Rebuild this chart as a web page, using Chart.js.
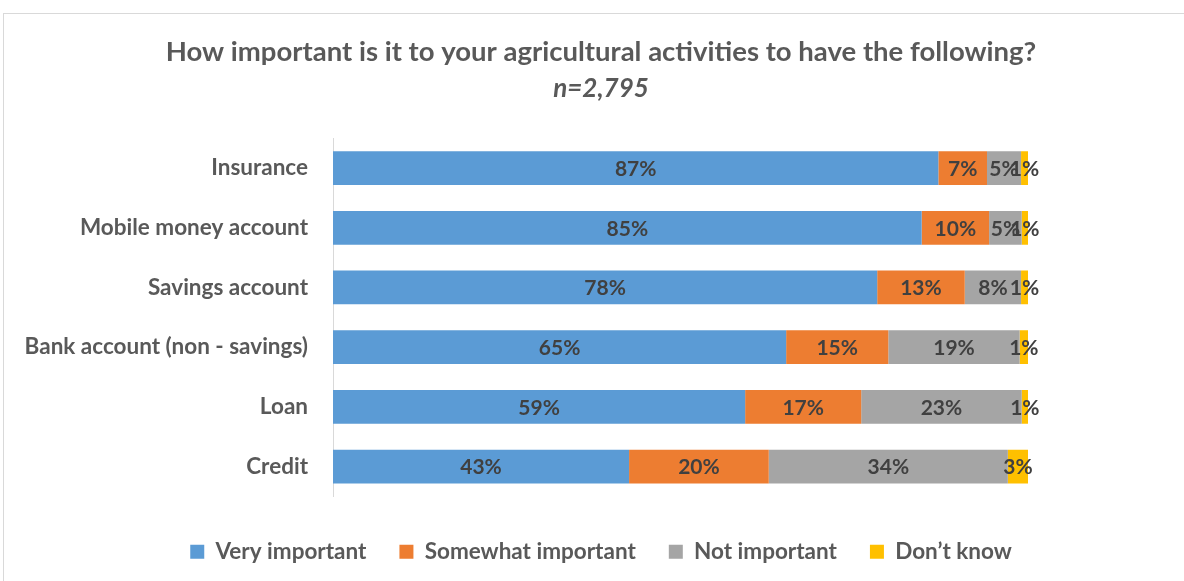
<!DOCTYPE html>
<html>
<head>
<meta charset="utf-8">
<script src="https://cdn.jsdelivr.net/npm/chart.js@4"></script>
<style>
  body { margin: 0; background: #fff; overflow: hidden; }
  #frame {
    position: absolute; left: 3px; top: 13px;
    width: 1210px; height: 600px;
    border: 1px solid #d9d9d9;
  }
  #box { position: absolute; left: 0; top: 0; width: 1194px; height: 567px; }
</style>
</head>
<body>
<div id="frame"><div id="box"><canvas id="importanceChart"></canvas></div></div>
<script>
// Categories and values (percent of respondents)
const categories = ['Insurance', 'Mobile money account', 'Savings account', 'Bank account (non - savings)', 'Loan', 'Credit'];
const veryImportant = [87.1, 84.7, 78.3, 65.2, 59.3, 42.6];
const somewhatImportant = [7.0, 9.7, 12.6, 14.7, 16.7, 20.1];
const notImportant = [4.9, 4.7, 8.1, 18.9, 23.1, 34.4];
const dontKnow = [1.0, 0.9, 1.0, 1.2, 0.9, 2.9];

const fontFamily = 'Lato, "Open Sans", sans-serif';
const textColor = '#595959';

// draws the % value centred in every bar segment
const segmentLabels = {
    id: 'segmentLabels',
    afterDatasetsDraw(chart) {
        const ctx = chart.ctx;
        ctx.save();
        ctx.font = 'bold 21px ' + fontFamily;
        ctx.fillStyle = '#404040';
        ctx.textAlign = 'center';
        ctx.textBaseline = 'middle';
        chart.data.datasets.forEach(function (ds, i) {
            chart.getDatasetMeta(i).data.forEach(function (bar, j) {
                const x = (bar.x + bar.base) / 2;
                ctx.fillText(Math.round(ds.data[j]) + '%', x, bar.y + 1);
            });
        });
        ctx.restore();
    }
};

const ctx = document.getElementById('importanceChart').getContext('2d');
new Chart(ctx, {
    type: 'bar',
    data: {
        labels: categories,
        datasets: [
            { label: 'Very important', data: veryImportant, backgroundColor: '#5B9BD5' },
            { label: 'Somewhat important', data: somewhatImportant, backgroundColor: '#ED7D31' },
            { label: 'Not important', data: notImportant, backgroundColor: '#A5A5A5' },
            { label: 'Don\u2019t know', data: dontKnow, backgroundColor: '#FFC000' }
        ]
    },
    options: {
        indexAxis: 'y',
        responsive: true,
        maintainAspectRatio: false,
        animation: false,
        barPercentage: 0.565,
        categoryPercentage: 1,
        layout: { padding: { bottom: 8 } },
        scales: {
            x: {
                stacked: true,
                min: 0,
                max: 100,
                grid: { display: false },
                border: { display: false },
                ticks: { display: false },
                afterFit: function (scale) { scale.height = 11; }
            },
            y: {
                stacked: true,
                grid: { display: false, drawTicks: false },
                border: { display: true, color: '#d9d9d9', width: 1 },
                ticks: {
                    padding: 25,
                    color: textColor,
                    font: { family: fontFamily, size: 22.5, weight: 'bold' }
                },
                afterFit: function (scale) {
                    scale.width = 329;
                    scale.paddingTop = 0;
                    scale.paddingBottom = 0;
                }
            },
            // empty strip on the right so the bars stop where the reference does
            rightGap: {
                axis: 'y',
                position: 'right',
                display: true,
                grid: { display: false, drawTicks: false },
                border: { display: false },
                ticks: { display: false },
                afterFit: function (scale) {
                    scale.width = 170;
                    scale.paddingTop = 0;
                    scale.paddingBottom = 0;
                }
            }
        },
        plugins: {
            title: {
                display: true,
                text: 'How important is it to your agricultural activities to have the following?',
                color: textColor,
                font: { family: fontFamily, size: 27.5, weight: 'bold' },
                padding: { top: 22, bottom: 0 }
            },
            subtitle: {
                display: true,
                text: 'n=2,795',
                color: textColor,
                font: { family: fontFamily, size: 26, weight: 'bold', style: 'italic' },
                padding: { top: 4, bottom: 34 }
            },
            legend: {
                position: 'bottom',
                labels: {
                    boxWidth: 14,
                    boxHeight: 14,
                    padding: 33,
                    color: textColor,
                    font: { family: fontFamily, size: 22.5, weight: 'bold' }
                }
            },
            tooltip: { enabled: false }
        }
    },
    plugins: [segmentLabels]
});
</script>
</body>
</html>
